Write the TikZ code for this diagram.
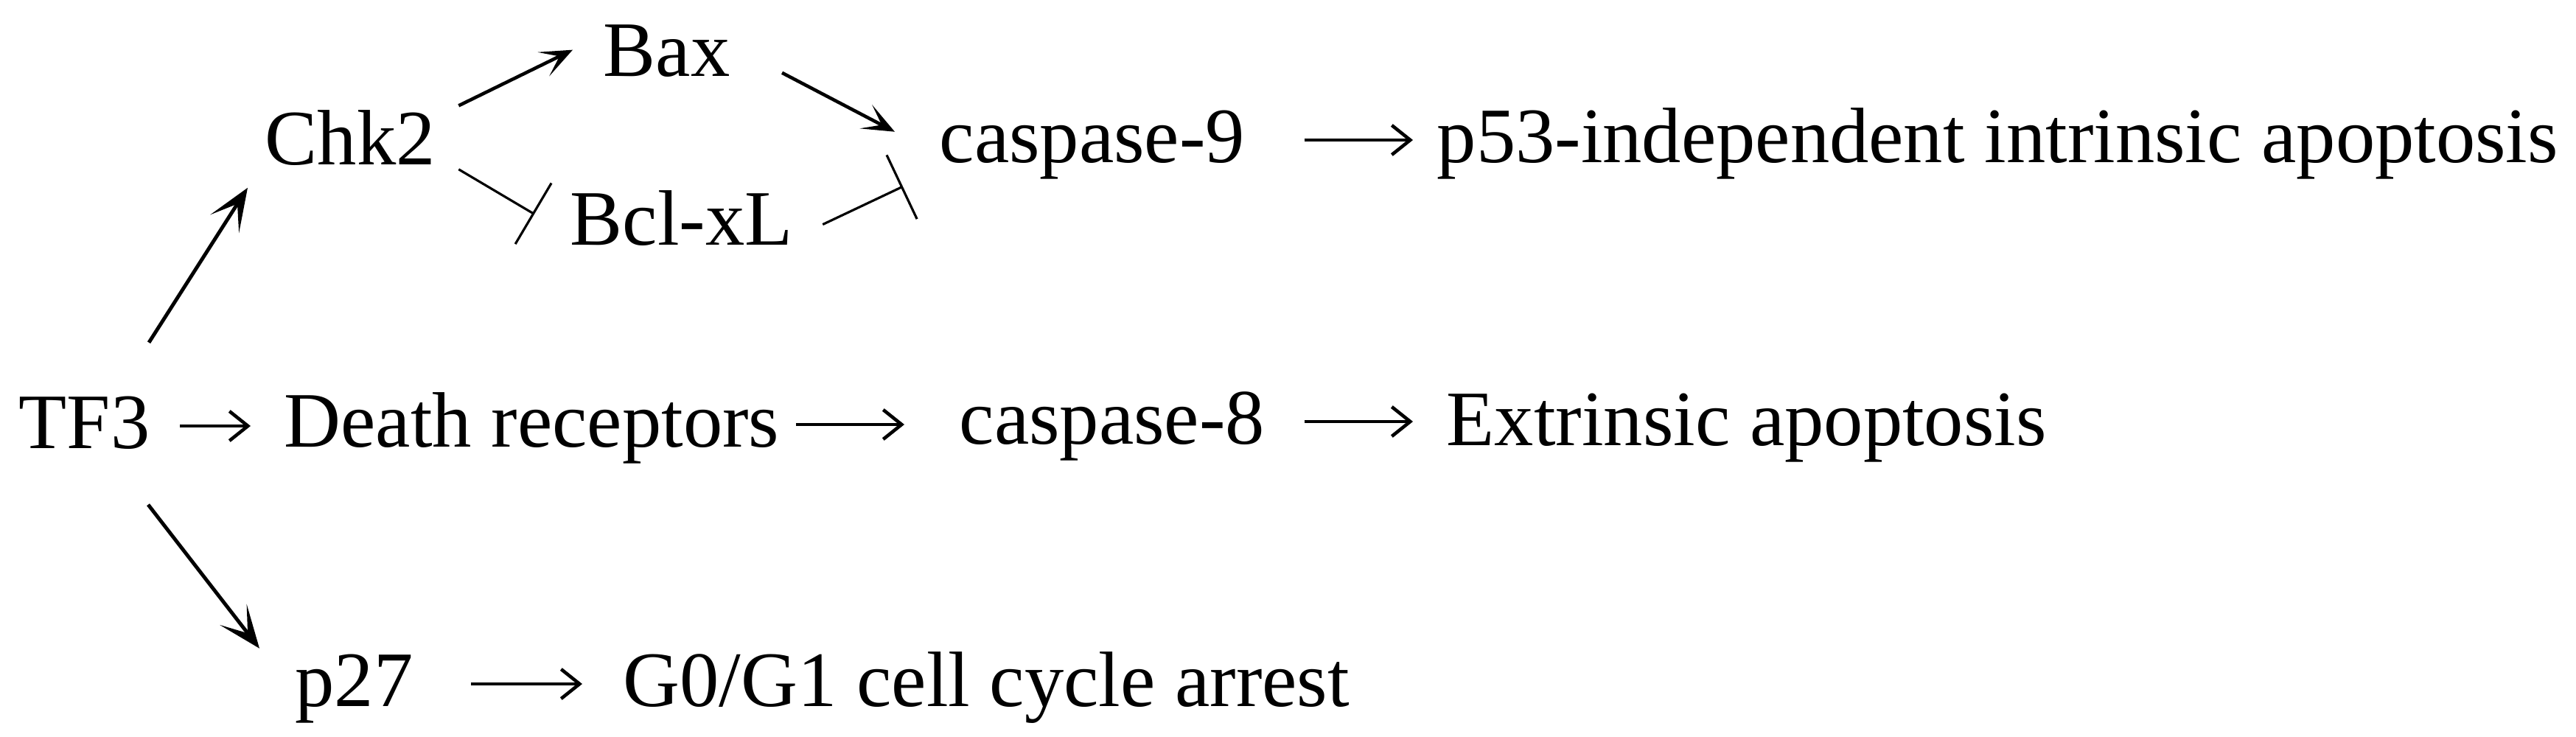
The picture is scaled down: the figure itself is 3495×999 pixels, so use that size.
\documentclass[tikz,border=0pt]{standalone}
\usepackage{fontspec}
\setmainfont{Liberation Serif}
\usetikzlibrary{arrows.meta, positioning}

\begin{document}
\begin{tikzpicture}[x=0.01cm, y=-0.01cm,
  every node/.style={inner sep=0pt, anchor=base west, font=\fontsize{30.3}{36}\selectfont},
  act/.style={line width=1.3pt, -{Stealth[length=0.44cm, width=0.36cm, inset=0.24cm]}},
  bigact/.style={line width=1.4pt, -{Stealth[length=0.58cm, width=0.46cm, inset=0.32cm]}},
  inh/.style={line width=0.9pt, -{Bar[width=0.96cm]}},
  flow/.style={line width=1.3pt, -{Straight Barb[length=0.25cm, width=0.4cm]}}]

\useasboundingbox (0,0) rectangle (3495,999);

% upper branch
\node at (359,223) (chk2) {Chk2};
\node at (818,103) (bax) {Bax};
\node at (773,332) (bclxl) {Bcl-xL};
\node at (1274,220) (casp9) {caspase-9};
\node at (1949,220) (intr) {p53-independent intrinsic apoptosis};

% middle row
\node at (25,608) (tf3) {TF3};
\node at (385,606) (dr) {Death receptors};
\node at (1301,602) (casp8) {caspase-8};
\node at (1962,604) (extr) {Extrinsic apoptosis};

% lower branch
\node at (400,958) (p27) {p27};
\node at (845,958) (arrest) {G0/G1 cell cycle arrest};

\draw[bigact] ([shift={(-2,-72)}]tf3.north east) -- ([shift={(-23,30)}]chk2.south west);
\draw[bigact] ([shift={(-3,75)}]tf3.south east) -- ([shift={(-48,-7)}]p27.north west);
\draw[act] ([shift={(31,-5)}]chk2.north east) -- ([shift={(-41,-1)}]bax.west);
\draw[act] ([shift={(70,-6)}]bax.south east) -- ([shift={(-60,30)}]casp9.north west);
\draw[inh] ([shift={(31,5)}]chk2.south east) -- ([shift={(-48,-5)}]bclxl.west);
\draw[inh] ([shift={(40,9)}]bclxl.east) -- ([shift={(-49,57)}]casp9.west);

\draw[flow, shorten <=0.40cm, shorten >=0.45cm] ([yshift=3mm]tf3.base east) -- ([yshift=3mm]tf3.base east -| dr.west);
\draw[flow, shorten <=0.22cm, shorten >=0.74cm] ([yshift=3mm]dr.base east) -- ([yshift=3mm]dr.base east -| casp8.west);
\draw[flow, shorten <=0.53cm, shorten >=0.45cm] ([yshift=3mm]casp8.base east) -- ([yshift=3mm]casp8.base east -| extr.west);
\draw[flow, shorten <=0.80cm, shorten >=0.32cm] ([yshift=3mm]casp9.base east) -- ([yshift=3mm]casp9.base east -| intr.west);
\draw[flow, shorten <=0.78cm, shorten >=0.55cm] ([yshift=3mm]p27.base east) -- ([yshift=3mm]p27.base east -| arrest.west);

\end{tikzpicture}
\end{document}
